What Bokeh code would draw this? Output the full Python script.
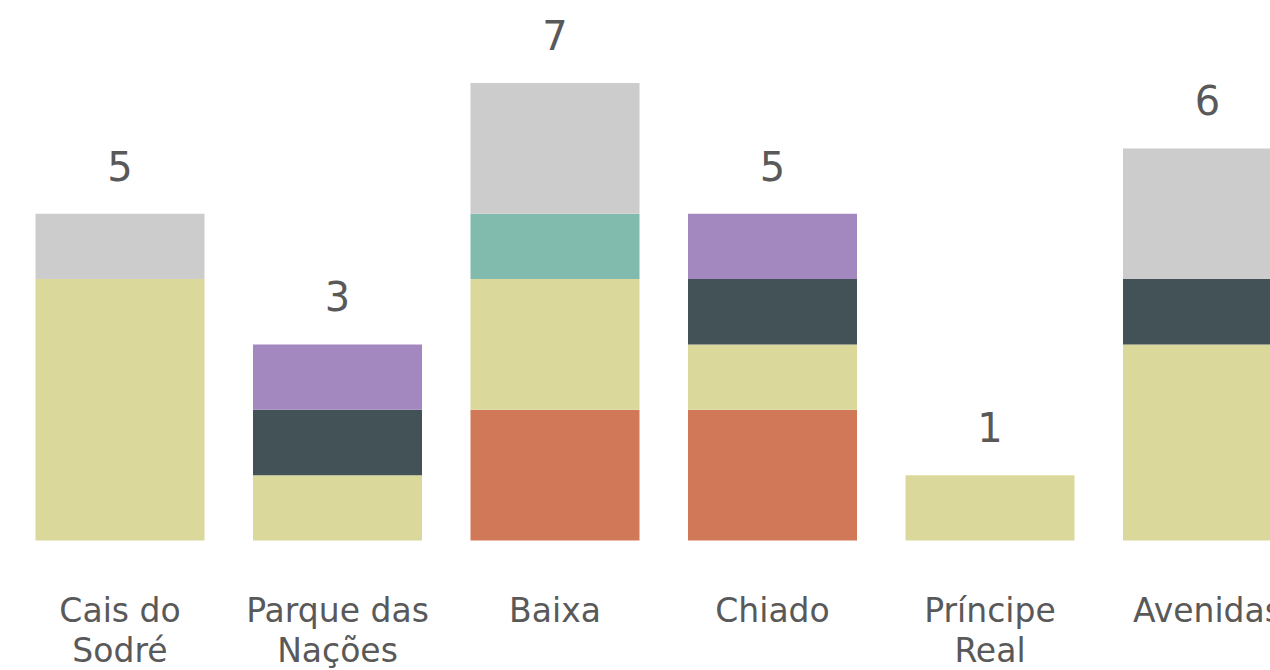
from bokeh.plotting import figure
from bokeh.models import ColumnDataSource, Range1d
from bokeh.core.properties import value
from bokeh.embed import file_html
from bokeh.resources import INLINE

# ---- data ----
categories = ["Cais do Sodré", "Parque das Nações", "Baixa", "Chiado", "Príncipe Real", "Avenidas"]
cat_labels = ["Cais do\nSodré", "Parque das\nNações", "Baixa", "Chiado", "Príncipe\nReal", "Avenidas"]
series = ["s1", "s2", "s3", "s4", "s5", "s6"]
s1 = [0, 0, 2, 2, 0, 0]  # orange-red
s2 = [4, 1, 2, 1, 1, 3]  # pale yellow
s3 = [0, 0, 1, 0, 0, 0]  # teal
s4 = [0, 1, 0, 1, 0, 1]  # dark slate
s5 = [0, 1, 0, 1, 0, 0]  # purple
s6 = [1, 0, 2, 0, 0, 2]  # gray
colors = ["#D17858", "#DBD89B", "#80BBAD", "#435257", "#A388BF", "#CCCCCC"]

xs = list(range(len(categories)))
totals = [a + b + c + d + e + f for a, b, c, d, e, f in zip(s1, s2, s3, s4, s5, s6)]

source = ColumnDataSource(data=dict(
    x=xs, label=cat_labels, total=totals, total_str=[str(t) for t in totals],
    zero=[0] * len(xs),
    s1=s1, s2=s2, s3=s3, s4=s4, s5=s5, s6=s6,
))

step = 217.5
W, H = 1270, 670
x0 = -119.5 / step
unit = 65.35

p = figure(width=W, height=H, output_backend="svg", toolbar_location=None,
           x_range=Range1d(x0, x0 + W / step),
           y_range=Range1d(-(H - 540) / unit, 540 / unit),
           x_axis_location=None, y_axis_location=None,
           min_border=0, outline_line_color=None)
p.grid.visible = False
p.background_fill_color = "white"
p.border_fill_color = "white"

p.vbar_stack(series, x="x", width=169 / step, fill_color=colors, line_color=None, source=source)

txt = "#595959"
p.text(x="x", y="total", text="total_str", source=source, y_offset=-48,
       text_align="center", text_baseline="alphabetic", text_font=value("DejaVu Sans"),
       text_font_size="40px", text_color=txt)

p.text(x="x", y="zero", text="label", source=source, y_offset=50,
       text_align="center", text_baseline="top", text_font=value("DejaVu Sans"),
       text_font_size="33px", text_color=txt, text_line_height=1.04)

open("out.html", "w").write(file_html(p, INLINE))
